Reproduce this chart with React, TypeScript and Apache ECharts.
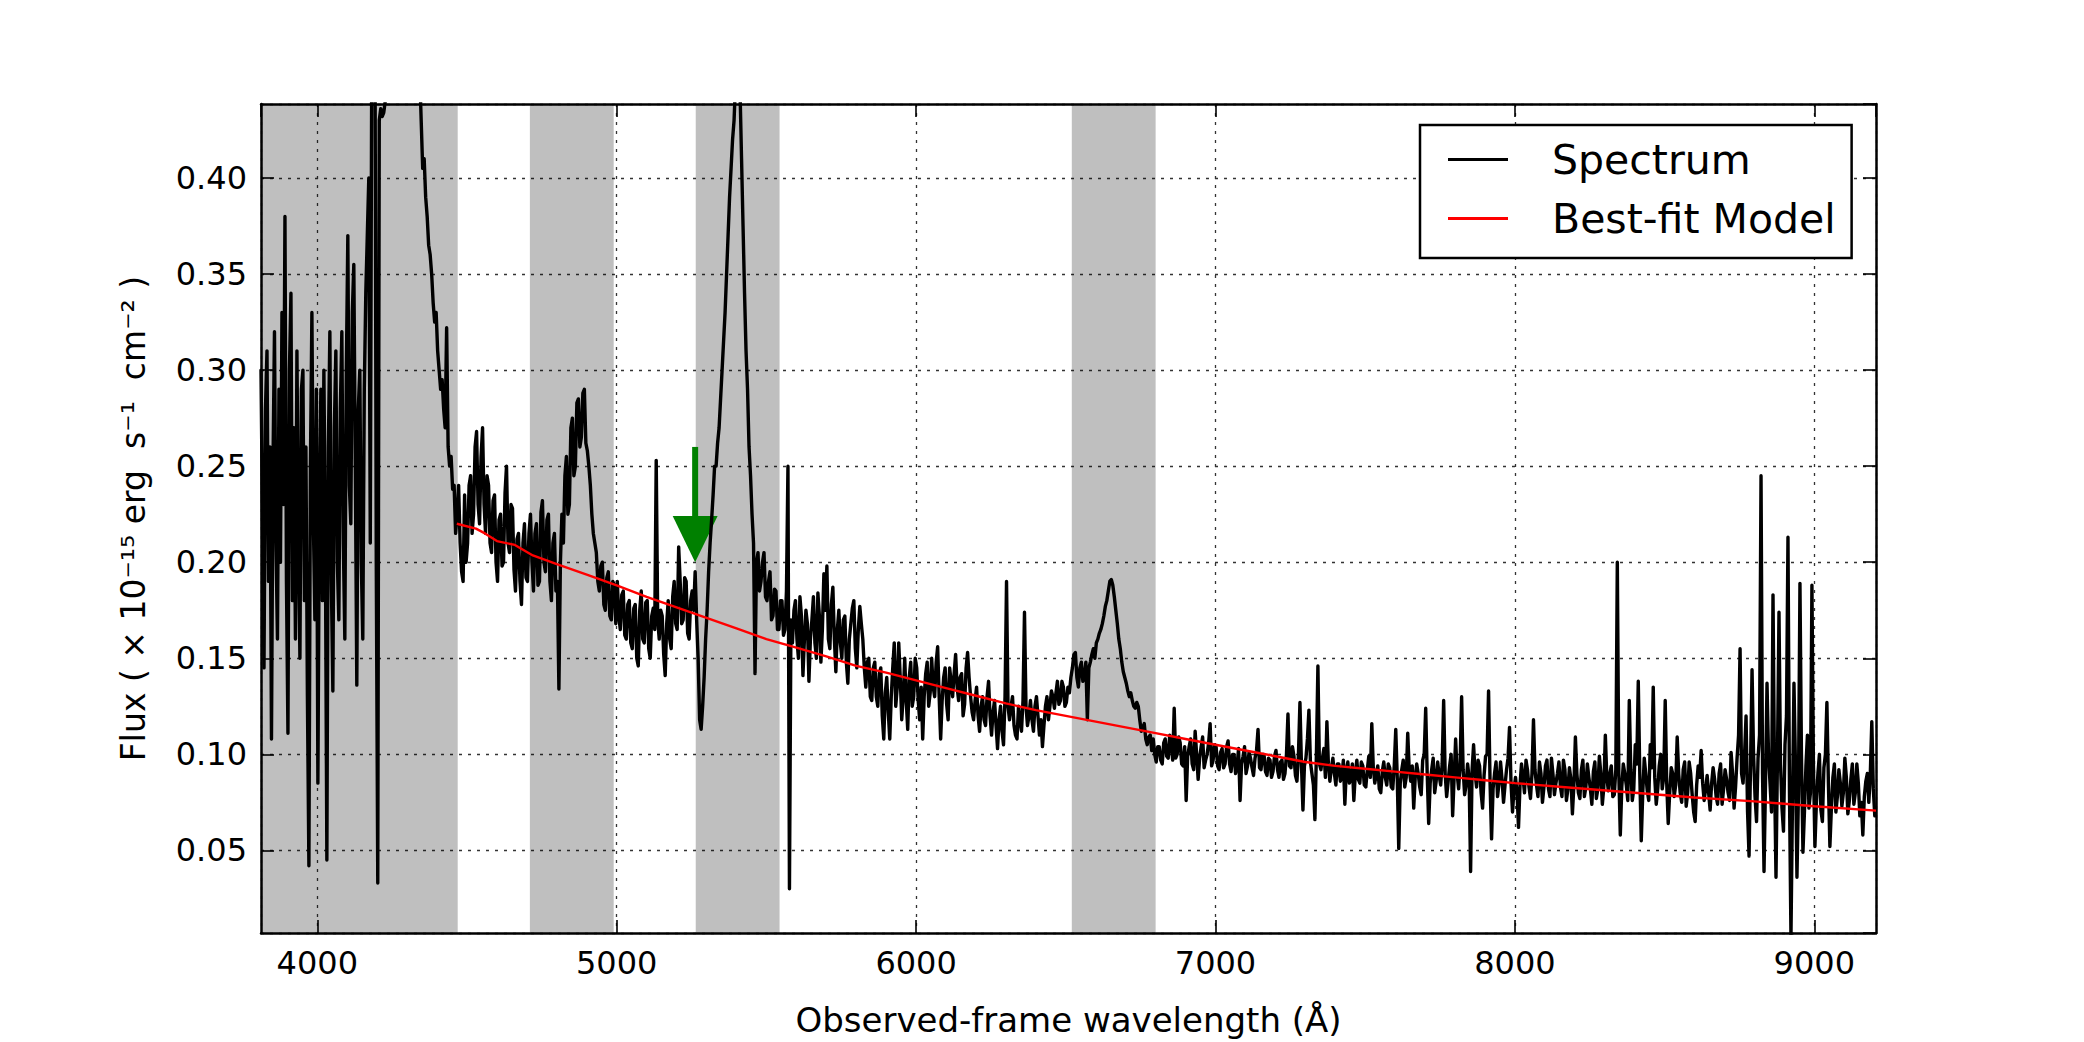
import React, { useEffect, useRef } from "react";
import * as echarts from "echarts";

const FONT = "'DejaVu Sans', 'Liberation Sans', sans-serif";

// Axis ranges (Angstrom, flux in 1e-15 erg/s/cm2)
const X_MIN = 3812;
const X_MAX = 9206;
const Y_MIN = 0.007;
const Y_MAX = 0.4385;

// Spectrum sampling step (Angstrom); each segment below starts at its own wavelength
const WAVE_STEP = 5;

// 3812 - 4167
const FLUX_3812 = [
  0.30, 0.22, 0.145, 0.28, 0.31, 0.19, 0.26, 0.108, 0.25, 0.32,
  0.21, 0.16, 0.29, 0.20, 0.33, 0.23, 0.38, 0.19, 0.111, 0.30,
  0.34, 0.18, 0.27, 0.16, 0.31, 0.21, 0.15, 0.29, 0.30, 0.18,
  0.26, 0.13, 0.042, 0.25, 0.33, 0.22, 0.17, 0.29, 0.085, 0.23,
  0.29, 0.18, 0.30, 0.21, 0.045, 0.26, 0.32, 0.19, 0.133, 0.27,
  0.31, 0.20, 0.17, 0.28, 0.32, 0.21, 0.16, 0.30, 0.37, 0.24,
  0.22, 0.33, 0.355, 0.25, 0.136, 0.28, 0.30, 0.20, 0.16, 0.29,
  0.34, 0.37,
];
// 4172 - 4467 (broad line, off the top)
const FLUX_4172 = [
  0.40, 0.21, 0.47, 0.50, 0.52, 0.20, 0.033, 0.43, 0.436, 0.432,
  0.434, 0.44, 0.47, 0.52, 0.55, 0.57, 0.58, 0.59, 0.60, 0.61,
  0.62, 0.62, 0.61, 0.61, 0.60, 0.59, 0.58, 0.57, 0.56, 0.54,
  0.53, 0.51, 0.50, 0.48, 0.455, 0.43, 0.405, 0.41, 0.39, 0.38,
  0.365, 0.36, 0.35, 0.335, 0.325, 0.33, 0.31, 0.30, 0.29, 0.295,
  0.28, 0.27, 0.322, 0.26, 0.25, 0.255, 0.238, 0.24, 0.215, 0.225,
];
// 4472 - 4707
const FLUX_4472 = [
  0.24, 0.21, 0.195, 0.19, 0.235, 0.20, 0.21, 0.24, 0.245, 0.215,
  0.225, 0.26, 0.268, 0.23, 0.22, 0.255, 0.27, 0.23, 0.215, 0.245,
  0.24, 0.21, 0.205, 0.232, 0.235, 0.20, 0.19, 0.222, 0.225, 0.198,
  0.20, 0.236, 0.25, 0.21, 0.205, 0.23, 0.228, 0.196, 0.185, 0.212,
  0.215, 0.19, 0.178, 0.21, 0.22, 0.192, 0.19, 0.215,
];
// 4712 - 4997
const FLUX_4712 = [
  0.225, 0.20, 0.185, 0.215, 0.22, 0.188, 0.19, 0.226, 0.232, 0.20,
  0.195, 0.222, 0.225, 0.19, 0.18, 0.21, 0.215, 0.185, 0.19, 0.134,
  0.20, 0.225, 0.21, 0.245, 0.255, 0.225, 0.23, 0.27, 0.275, 0.245,
  0.25, 0.283, 0.285, 0.26, 0.265, 0.288, 0.29, 0.262, 0.258, 0.25,
  0.24, 0.225, 0.215, 0.21, 0.205, 0.19, 0.185, 0.198, 0.20, 0.178,
  0.175, 0.192, 0.195, 0.172, 0.17, 0.19, 0.188, 0.168,
];
// 5002 - 5267
const FLUX_5002 = [
  0.19, 0.172, 0.165, 0.183, 0.185, 0.162, 0.16, 0.178, 0.18, 0.158,
  0.155, 0.176, 0.178, 0.15, 0.146, 0.175, 0.185, 0.16, 0.158, 0.179,
  0.18, 0.155, 0.15, 0.172, 0.176, 0.165, 0.253, 0.17, 0.16, 0.175,
  0.172, 0.152, 0.141, 0.168, 0.18, 0.16, 0.155, 0.182, 0.19, 0.168,
  0.165, 0.208, 0.19, 0.168, 0.17, 0.192, 0.19, 0.163, 0.16, 0.18,
  0.185, 0.175, 0.195, 0.17,
];
// 5272 - 5547 (absorption + strong line)
const FLUX_5272 = [
  0.15, 0.118, 0.113, 0.125, 0.14, 0.16, 0.175, 0.195, 0.21, 0.222,
  0.235, 0.25, 0.25, 0.262, 0.27, 0.285, 0.30, 0.315, 0.33, 0.35,
  0.37, 0.39, 0.405, 0.42, 0.43, 0.45, 0.455, 0.46, 0.445, 0.41,
  0.375, 0.34, 0.31, 0.29, 0.26, 0.245, 0.225, 0.21, 0.142, 0.20,
  0.205, 0.185, 0.19, 0.20, 0.205, 0.182, 0.18, 0.19, 0.195, 0.17,
  0.172, 0.186, 0.185, 0.165, 0.165, 0.18,
];
// 5552 - 5827
const FLUX_5552 = [
  0.18, 0.162, 0.165, 0.185, 0.25, 0.03, 0.17, 0.158, 0.175, 0.18,
  0.16, 0.15, 0.182, 0.172, 0.141, 0.16, 0.175, 0.168, 0.138, 0.16,
  0.17, 0.182, 0.158, 0.15, 0.184, 0.172, 0.148, 0.165, 0.194, 0.175,
  0.198, 0.16, 0.155, 0.178, 0.187, 0.16, 0.143, 0.165, 0.175, 0.158,
  0.15, 0.17, 0.172, 0.148, 0.137, 0.16, 0.168, 0.176, 0.18, 0.155,
  0.145, 0.165, 0.177, 0.168, 0.16, 0.145,
];
// 5832 - 6187
const FLUX_5832 = [
  0.135, 0.148, 0.15, 0.13, 0.128, 0.145, 0.148, 0.13, 0.125, 0.142,
  0.145, 0.12, 0.108, 0.132, 0.14, 0.122, 0.108, 0.13, 0.145, 0.158,
  0.125, 0.135, 0.158, 0.14, 0.118, 0.13, 0.15, 0.128, 0.113, 0.14,
  0.148, 0.125, 0.13, 0.15, 0.145, 0.128, 0.118, 0.135, 0.108, 0.13,
  0.142, 0.148, 0.125, 0.132, 0.15, 0.135, 0.13, 0.148, 0.156, 0.13,
  0.108, 0.128, 0.14, 0.145, 0.126, 0.118, 0.145, 0.138, 0.13, 0.142,
  0.152, 0.135, 0.128, 0.14, 0.142, 0.12, 0.126, 0.145, 0.153, 0.14,
  0.13, 0.122,
];
// 6192 - 6517
const FLUX_6192 = [
  0.118, 0.128, 0.135, 0.12, 0.112, 0.125, 0.13, 0.118, 0.115, 0.13,
  0.138, 0.12, 0.11, 0.122, 0.128, 0.115, 0.103, 0.118, 0.125, 0.112,
  0.105, 0.13, 0.19, 0.125, 0.118, 0.125, 0.13, 0.115, 0.11, 0.108,
  0.125, 0.118, 0.112, 0.128, 0.174, 0.125, 0.115, 0.12, 0.128, 0.118,
  0.112, 0.125, 0.13, 0.12, 0.11, 0.118, 0.104, 0.115, 0.125, 0.13,
  0.118, 0.125, 0.133, 0.13, 0.124, 0.132, 0.138, 0.126, 0.128, 0.138,
  0.135, 0.125, 0.127, 0.135, 0.132, 0.14,
];
// 6522 - 6787 (emission line)
const FLUX_6522 = [
  0.145, 0.152, 0.153, 0.14, 0.135, 0.145, 0.148, 0.138, 0.14, 0.148,
  0.118, 0.145, 0.148, 0.152, 0.155, 0.15, 0.158, 0.16, 0.163, 0.165,
  0.168, 0.172, 0.177, 0.18, 0.185, 0.19, 0.191, 0.188, 0.182, 0.175,
  0.168, 0.16, 0.155, 0.148, 0.143, 0.14, 0.137, 0.133, 0.13, 0.132,
  0.128, 0.125, 0.124, 0.127, 0.125, 0.118, 0.112, 0.114, 0.116, 0.108,
  0.105, 0.109, 0.11, 0.102,
];
// 6792 - 7147
const FLUX_6792 = [
  0.108, 0.10, 0.096, 0.104, 0.104, 0.097, 0.095, 0.106, 0.108, 0.099,
  0.098, 0.11, 0.105, 0.097, 0.124, 0.098, 0.10, 0.109, 0.106, 0.095,
  0.094, 0.104, 0.076, 0.099, 0.104, 0.108, 0.095, 0.092, 0.112, 0.10,
  0.087, 0.098, 0.104, 0.109, 0.093, 0.097, 0.10, 0.106, 0.116, 0.094,
  0.097, 0.105, 0.104, 0.094, 0.092, 0.101, 0.103, 0.093, 0.095, 0.104,
  0.107, 0.095, 0.091, 0.10, 0.10, 0.09, 0.094, 0.103, 0.076, 0.095,
  0.099, 0.104, 0.09, 0.094, 0.101, 0.098, 0.093, 0.089, 0.098, 0.102,
  0.113, 0.093,
];
// 7152 - 7497
const FLUX_7152 = [
  0.092, 0.10, 0.10, 0.091, 0.089, 0.098, 0.097, 0.088, 0.091, 0.099,
  0.102, 0.092, 0.088, 0.096, 0.097, 0.087, 0.09, 0.10, 0.121, 0.094,
  0.093, 0.104, 0.099, 0.089, 0.086, 0.10, 0.127, 0.095, 0.071, 0.094,
  0.098, 0.108, 0.123, 0.096, 0.09, 0.084, 0.066, 0.10, 0.146, 0.095,
  0.092, 0.098, 0.103, 0.088, 0.117, 0.095, 0.086, 0.093, 0.098, 0.09,
  0.084, 0.095, 0.095, 0.086, 0.088, 0.097, 0.074, 0.092, 0.096, 0.085,
  0.087, 0.095, 0.076, 0.09, 0.097, 0.087, 0.085, 0.096, 0.094, 0.084,
];
// 7502 - 7747
const FLUX_7502 = [
  0.083, 0.092, 0.099, 0.088, 0.116, 0.093, 0.085, 0.09, 0.094, 0.082,
  0.08, 0.091, 0.096, 0.088, 0.084, 0.095, 0.093, 0.083, 0.082, 0.094,
  0.113, 0.088, 0.051, 0.085, 0.092, 0.097, 0.083, 0.088, 0.111, 0.092,
  0.086, 0.094, 0.072, 0.088, 0.095, 0.09, 0.083, 0.079, 0.097, 0.10,
  0.124, 0.09, 0.064, 0.085, 0.092, 0.098, 0.08, 0.086, 0.096, 0.089,
];
// 7752 - 7997
const FLUX_7752 = [
  0.084, 0.095, 0.128, 0.09, 0.078, 0.086, 0.094, 0.10, 0.068, 0.088,
  0.108, 0.09, 0.082, 0.095, 0.13, 0.092, 0.079, 0.084, 0.095, 0.088,
  0.039, 0.092, 0.105, 0.09, 0.083, 0.097, 0.094, 0.08, 0.072, 0.089,
  0.099, 0.10, 0.133, 0.085, 0.056, 0.082, 0.09, 0.096, 0.078, 0.085,
  0.096, 0.087, 0.075, 0.084, 0.092, 0.098, 0.114, 0.085, 0.07, 0.082,
];
// 8002 - 8297
const FLUX_8002 = [
  0.088, 0.08, 0.062, 0.084, 0.095, 0.088, 0.08, 0.097, 0.092, 0.083,
  0.077, 0.09, 0.118, 0.092, 0.084, 0.078, 0.096, 0.09, 0.075, 0.083,
  0.094, 0.097, 0.082, 0.078, 0.098, 0.09, 0.079, 0.085, 0.09, 0.096,
  0.083, 0.078, 0.097, 0.092, 0.076, 0.082, 0.093, 0.087, 0.069, 0.084,
  0.109, 0.09, 0.08, 0.077, 0.092, 0.097, 0.078, 0.083, 0.095, 0.088,
  0.082, 0.074, 0.091, 0.096, 0.077, 0.082, 0.099, 0.09, 0.074, 0.083,
];
// 8302 - 8597
const FLUX_8302 = [
  0.11, 0.088, 0.081, 0.09, 0.094, 0.078, 0.079, 0.092, 0.20, 0.09,
  0.058, 0.083, 0.095, 0.09, 0.084, 0.076, 0.128, 0.092, 0.076, 0.082,
  0.105, 0.095, 0.138, 0.09, 0.055, 0.08, 0.098, 0.09, 0.081, 0.076,
  0.105, 0.093, 0.135, 0.088, 0.074, 0.082, 0.094, 0.10, 0.082, 0.088,
  0.128, 0.085, 0.064, 0.08, 0.093, 0.09, 0.078, 0.084, 0.109, 0.09,
  0.08, 0.075, 0.092, 0.096, 0.073, 0.08, 0.096, 0.09, 0.079, 0.07,
];
// 8602 - 8747
const FLUX_8602 = [
  0.065, 0.084, 0.094, 0.088, 0.102, 0.085, 0.076, 0.082, 0.089, 0.08,
  0.071, 0.085, 0.093, 0.087, 0.078, 0.074, 0.09, 0.095, 0.074, 0.082,
  0.092, 0.087, 0.08, 0.076, 0.101, 0.09, 0.072, 0.083, 0.098, 0.11,
];
// 8752 - 9047 (sky-line residuals)
const FLUX_8752 = [
  0.155, 0.09, 0.085, 0.10, 0.12, 0.07, 0.047, 0.095, 0.144, 0.10,
  0.078, 0.065, 0.098, 0.11, 0.245, 0.09, 0.039, 0.085, 0.137, 0.10,
  0.085, 0.07, 0.183, 0.09, 0.036, 0.10, 0.174, 0.095, 0.072, 0.06,
  0.105, 0.12, 0.213, 0.08, 0.005, 0.075, 0.137, 0.095, 0.036, 0.08,
  0.189, 0.10, 0.049, 0.07, 0.094, 0.11, 0.072, 0.08, 0.188, 0.095,
  0.052, 0.075, 0.09, 0.10, 0.071, 0.065, 0.093, 0.10, 0.127, 0.085,
];
// 9052 - 9202
const FLUX_9052 = [
  0.052, 0.072, 0.088, 0.095, 0.07, 0.078, 0.092, 0.085, 0.073, 0.08,
  0.098, 0.088, 0.069, 0.076, 0.087, 0.095, 0.074, 0.08, 0.095, 0.085,
  0.068, 0.075, 0.058, 0.078, 0.086, 0.09, 0.075, 0.09, 0.117, 0.082,
  0.068,
];

const SEGMENT_START = [
  3812, 4172, 4472, 4712, 5002, 5272, 5552, 5832, 6192, 6522,
  6792, 7152, 7502, 7752, 8002, 8302, 8602, 8752, 9052,
];
const SEGMENT_FLUX = [
  FLUX_3812, FLUX_4172, FLUX_4472, FLUX_4712, FLUX_5002, FLUX_5272, FLUX_5552,
  FLUX_5832, FLUX_6192, FLUX_6522, FLUX_6792, FLUX_7152, FLUX_7502, FLUX_7752,
  FLUX_8002, FLUX_8302, FLUX_8602, FLUX_8752, FLUX_9052,
];

// Best-fit continuum model
const MODEL_WAVE = [
  4466, 4530, 4560, 4600, 4660, 4720, 4800, 4900, 5000, 5100,
  5200, 5300, 5400, 5500, 5600, 5700, 5800, 5900, 6000, 6100,
  6200, 6300, 6400, 6500, 6600, 6700, 6800, 6900, 7000, 7100,
  7200, 7300, 7400, 7500, 7600, 7700, 7800, 7900, 8000, 8200,
  8400, 8600, 8800, 9000, 9206,
];
const MODEL_FLUX = [
  0.220, 0.2175, 0.215, 0.211, 0.209, 0.2035, 0.199, 0.1935, 0.188, 0.182,
  0.1765, 0.171, 0.1655, 0.160, 0.1555, 0.151, 0.146, 0.1425, 0.1385, 0.1345,
  0.1305, 0.1265, 0.123, 0.120, 0.117, 0.114, 0.111, 0.108, 0.105, 0.102,
  0.099, 0.096, 0.094, 0.0925, 0.091, 0.0895, 0.088, 0.0865, 0.085, 0.0825,
  0.080, 0.0775, 0.0755, 0.073, 0.0707,
];

// Masked (shaded) wavelength windows
const BAND_START = [3812, 4710, 5264, 6520];
const BAND_END = [4469, 4990, 5544, 6800];

// Arrow annotation: wavelength, shaft top, tip, head base, head half-width (Angstrom)
const ARROW = [[5262, 0.26, 0.2, 0.224, 75]];

const SERIES_NAMES = ["Spectrum", "Best-fit Model"];

const spectrumData: number[][] = [];
SEGMENT_START.forEach((start, s) => {
  SEGMENT_FLUX[s].forEach((f, i) => spectrumData.push([start + i * WAVE_STEP, f]));
});
const modelData = MODEL_WAVE.map((w, i) => [w, MODEL_FLUX[i]]);
const bandData = BAND_START.map((s, i) => [{ xAxis: s }, { xAxis: BAND_END[i] }]);

const gridLine = { show: true, lineStyle: { color: "#333", width: 1.3, type: [3, 6] } };
const frameLine = { show: true, onZero: false, lineStyle: { color: "#000", width: 2.5 } };
const innerTick = { show: true, inside: true, length: 13, lineStyle: { color: "#000", width: 1.6 } };

const option: any = {
  animation: false,
  backgroundColor: "#ffffff",
  textStyle: { fontFamily: FONT },
  grid: { left: 261, right: 208, top: 104, bottom: 104, containLabel: false },
  legend: {
    data: SERIES_NAMES,
    orient: "vertical",
    left: 1420,
    top: 125,
    padding: [14, 16, 19, 28],
    itemGap: 18,
    itemWidth: 60,
    itemHeight: 3,
    icon: "rect",
    backgroundColor: "#ffffff",
    borderColor: "#000",
    borderWidth: 2.5,
    borderRadius: 0,
    selectedMode: false,
    formatter: (name: string) => `{gap|\u00a0}${name}`,
    textStyle: {
      fontSize: 41,
      color: "#000",
      fontFamily: FONT,
      rich: { gap: { width: 39 } },
    },
  },
  xAxis: [
    {
      type: "value",
      gridIndex: 0,
      position: "bottom",
      min: X_MIN,
      max: X_MAX,
      name: "Observed-frame wavelength (Å)",
      nameLocation: "middle",
      nameGap: 70,
      nameTextStyle: { fontSize: 34, color: "#000", fontFamily: FONT },
      axisLine: frameLine,
      axisTick: innerTick,
      axisLabel: {
        margin: 14,
        fontSize: 32,
        color: "#000",
        fontFamily: FONT,
        showMinLabel: false,
        showMaxLabel: false,
        formatter: (v: number) => String(v),
      },
      splitLine: gridLine,
    },
    {
      type: "value",
      gridIndex: 0,
      position: "top",
      min: X_MIN,
      max: X_MAX,
      axisLine: frameLine,
      axisTick: innerTick,
      axisLabel: { show: false },
      splitLine: { show: false },
    },
  ],
  yAxis: [
    {
      type: "value",
      gridIndex: 0,
      position: "left",
      min: Y_MIN,
      max: Y_MAX,
      splitNumber: 8,
      name: "Flux ( × 10⁻¹⁵ erg  s⁻¹  cm⁻² )",
      nameLocation: "middle",
      nameRotate: 90,
      nameGap: 111,
      nameTextStyle: { fontSize: 33, color: "#000", fontFamily: FONT },
      axisLine: frameLine,
      axisTick: innerTick,
      axisLabel: {
        margin: 14,
        fontSize: 32,
        color: "#000",
        fontFamily: FONT,
        showMinLabel: false,
        showMaxLabel: false,
        formatter: (v: number) => v.toFixed(2),
      },
      splitLine: gridLine,
    },
    {
      type: "value",
      gridIndex: 0,
      position: "right",
      min: Y_MIN,
      max: Y_MAX,
      splitNumber: 8,
      axisLine: frameLine,
      axisTick: innerTick,
      axisLabel: { show: false },
      splitLine: { show: false },
    },
  ],
  series: [
    {
      name: "arrow",
      type: "custom",
      xAxisIndex: 0,
      yAxisIndex: 0,
      z: 2,
      silent: true,
      clip: false,
      data: ARROW,
      renderItem: (params: any, api: any) => {
        const x = api.value(0);
        const yTop = api.value(1);
        const yTip = api.value(2);
        const yBase = api.value(3);
        const hw = api.value(4);
        const pTop = api.coord([x, yTop]);
        const pTip = api.coord([x, yTip]);
        const pBase = api.coord([x, yBase]);
        const pL = api.coord([x - hw, yBase]);
        const pR = api.coord([x + hw, yBase]);
        return {
          type: "group",
          children: [
            {
              type: "rect",
              shape: { x: pTop[0] - 3, y: pTop[1], width: 6, height: pBase[1] - pTop[1] + 1 },
              style: { fill: "#008000" },
            },
            {
              type: "polygon",
              shape: { points: [pL, pR, pTip] },
              style: { fill: "#008000" },
            },
          ],
        };
      },
    },
    {
      name: SERIES_NAMES[0],
      type: "line",
      xAxisIndex: 0,
      yAxisIndex: 0,
      z: 3,
      symbol: "none",
      showSymbol: false,
      clip: true,
      data: spectrumData,
      lineStyle: { color: "#000", width: 3.4, join: "round", cap: "round" },
      itemStyle: { color: "#000" },
      markArea: {
        silent: true,
        itemStyle: { color: "rgba(0,0,0,0.25)", borderWidth: 0 },
        data: bandData,
      },
    },
    {
      name: SERIES_NAMES[1],
      type: "line",
      xAxisIndex: 0,
      yAxisIndex: 0,
      z: 4,
      symbol: "none",
      showSymbol: false,
      clip: true,
      data: modelData,
      lineStyle: { color: "#ff0000", width: 2.4 },
      itemStyle: { color: "#ff0000" },
    },
  ],
};

export default function App() {
  const ref = useRef<HTMLDivElement>(null);
  useEffect(() => {
    const chart = echarts.init(ref.current as HTMLDivElement, null, { renderer: "svg" });
    chart.setOption(option);
    return () => {
      chart.dispose();
    };
  }, []);
  return (
    <div
      ref={ref}
      style={{ position: "absolute", left: 0, top: 0, width: 2084, height: 1042, background: "#ffffff" }}
    />
  );
}
